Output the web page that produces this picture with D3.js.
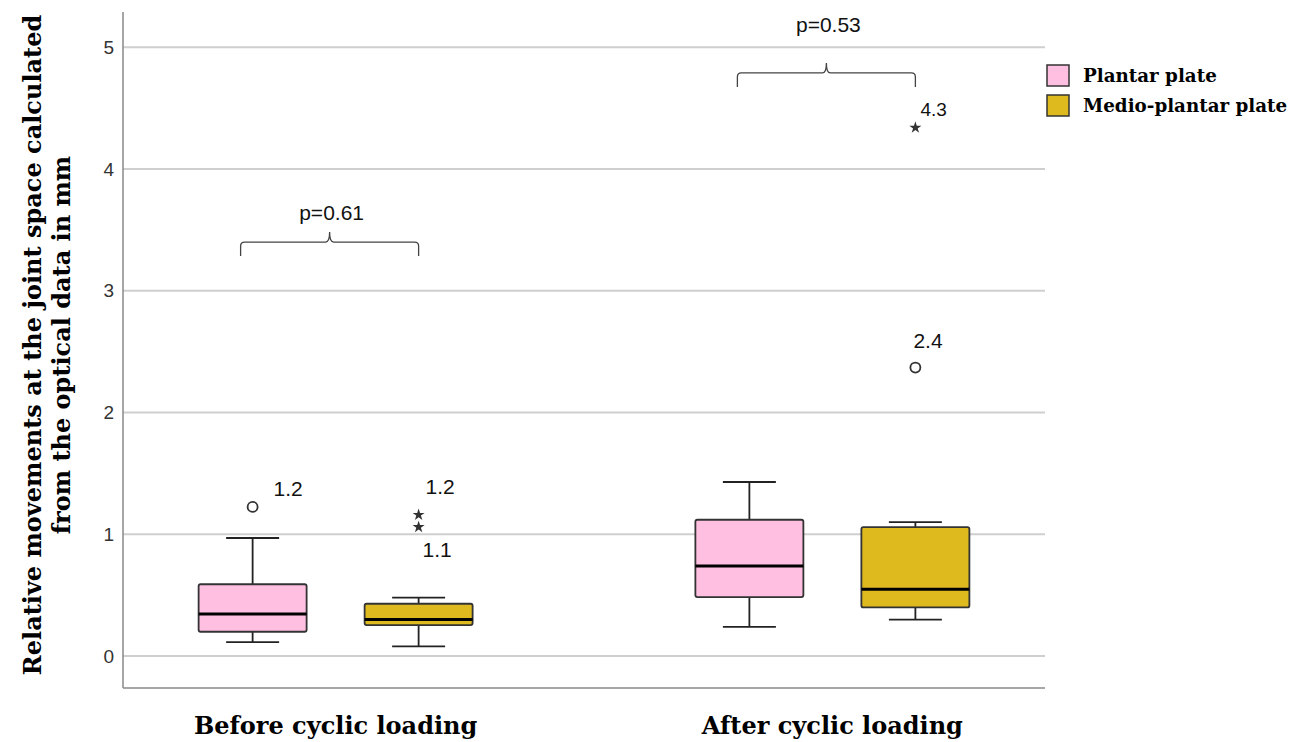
<!DOCTYPE html>
<html>
<head>
<meta charset="utf-8">
<script src="https://cdn.jsdelivr.net/npm/d3@7"></script>
<style>
body { margin: 0; background: #fff; }
</style>
</head>
<body>
<div id="chart"></div>
<script>
var width = 1298
var height = 742

var groups = ["Before cyclic loading", "After cyclic loading"]
var series = ["Plantar plate", "Medio-plantar plate"]
var colors = ["#ffbfe0", "#deba1f"]
var yTicks = [0, 1, 2, 3, 4, 5]

// [whiskerLow, q1, median, q3, whiskerHigh] per group
var plantarBox = [[0.115, 0.20, 0.345, 0.59, 0.97], [0.24, 0.485, 0.74, 1.12, 1.43]]
var medioBox = [[0.08, 0.255, 0.30, 0.43, 0.48], [0.30, 0.40, 0.55, 1.06, 1.10]]

// outliers
var outGroup = [0, 0, 0, 1, 1]
var outSeries = [0, 1, 1, 1, 1]
var outValue = [1.225, 1.16, 1.06, 2.37, 4.34]
var outKind = ["circle", "star", "star", "circle", "star"]
var outLabels = ["1.2", "1.2", "1.1", "2.4", "4.3"]

var pValues = ["p=0.61", "p=0.53"]
var pLevel = [3.40, 4.79]

var svg = d3.select("#chart").append("svg")
    .attr("width", width)
    .attr("height", height)

var pLeft = 123, pRight = 1045, pTop = 12, pBottom = 688
var serif = "'DejaVu Serif', 'Times New Roman', serif"
var sans = "'Liberation Sans', Arial, sans-serif"

var x = d3.scalePoint().domain(groups).range([pLeft, pRight]).padding(0.428)
var xs = d3.scalePoint().domain(series).range([-83, 83])
var y = d3.scaleLinear().domain([-0.262, 5.29]).range([pBottom, pTop])

// gridlines
svg.append("g").selectAll("line")
    .data(yTicks)
    .enter().append("line")
    .attr("x1", pLeft).attr("x2", pRight)
    .attr("y1", function(d){ return y(d); })
    .attr("y2", function(d){ return y(d); })
    .attr("stroke", "#cfcfcf")
    .attr("stroke-width", 2)

// y axis
var yAxis = svg.append("g")
    .attr("transform", "translate(" + pLeft + ",0)")
    .call(d3.axisLeft(y).tickValues(yTicks).tickSize(0).tickPadding(9).tickFormat(d3.format("d")))
yAxis.select(".domain").remove()
yAxis.selectAll("text")
    .style("font-family", sans)
    .style("font-size", "19px")
    .attr("fill", "#333")

svg.append("line")
    .attr("x1", pLeft).attr("x2", pLeft).attr("y1", pTop).attr("y2", pBottom)
    .attr("stroke", "#888").attr("stroke-width", 1.5)
svg.append("line")
    .attr("x1", pLeft).attr("x2", pRight).attr("y1", pBottom).attr("y2", pBottom)
    .attr("stroke", "#888").attr("stroke-width", 1.5)

// x labels
svg.append("g").selectAll("text")
    .data(groups)
    .enter().append("text")
    .attr("x", function(d){ return x(d); })
    .attr("y", 734)
    .attr("text-anchor", "middle")
    .style("font-family", serif)
    .style("font-weight", "bold")
    .style("font-size", "24px")
    .text(function(d){ return d; })

// y title
var yt = svg.append("text")
    .attr("transform", "translate(33,345) rotate(-90)")
    .attr("text-anchor", "middle")
    .style("font-family", serif)
    .style("font-weight", "bold")
    .style("font-size", "24px")
yt.append("tspan").attr("x", 0).attr("dy", "0.35em").text("Relative movements at the joint space calculated")
yt.append("tspan").attr("x", 0).attr("dy", "1.2em").text("from the optical data in mm")

// boxes
var boxW = 108, capW = 53
var allBoxes = [plantarBox, medioBox]
allBoxes.forEach(function(arr, si) {
    arr.forEach(function(b, gi) {
        var cx = x(groups[gi]) + xs(series[si])
        var g = svg.append("g")
        g.append("line")
            .attr("x1", cx).attr("x2", cx).attr("y1", y(b[0])).attr("y2", y(b[1]))
            .attr("stroke", "#222").attr("stroke-width", 1.8)
        g.append("line")
            .attr("x1", cx).attr("x2", cx).attr("y1", y(b[3])).attr("y2", y(b[4]))
            .attr("stroke", "#222").attr("stroke-width", 1.8)
        ;[b[0], b[4]].forEach(function(v){
            g.append("line")
                .attr("x1", cx - capW/2).attr("x2", cx + capW/2)
                .attr("y1", y(v)).attr("y2", y(v))
                .attr("stroke", "#222").attr("stroke-width", 1.8)
        })
        g.append("rect")
            .attr("x", cx - boxW/2).attr("width", boxW)
            .attr("y", y(b[3])).attr("height", y(b[1]) - y(b[3]))
            .attr("rx", 2)
            .attr("fill", colors[si])
            .attr("stroke", "#333").attr("stroke-width", 1.8)
        g.append("line")
            .attr("x1", cx - boxW/2).attr("x2", cx + boxW/2)
            .attr("y1", y(b[2])).attr("y2", y(b[2]))
            .attr("stroke", "#000").attr("stroke-width", 3)
    })
})

// outliers
outValue.forEach(function(v, i) {
    var cx = x(groups[outGroup[i]]) + xs(series[outSeries[i]])
    if (outKind[i] == "circle") {
        svg.append("circle")
            .attr("cx", cx).attr("cy", y(v)).attr("r", 5)
            .attr("fill", "#fff").attr("stroke", "#333").attr("stroke-width", 1.8)
    } else {
        svg.append("path")
            .attr("d", d3.symbol().type(d3.symbolStar).size(45))
            .attr("transform", "translate(" + cx + "," + y(v) + ")")
            .attr("fill", "#333")
    }
})

// outlier labels, offset from the marker
var labelDx = [21, 7, 4, -2, 5]
var labelDy = [-11, -21, 30, -20, -12]
var labelSize = [21, 21, 21, 21, 19]
outLabels.forEach(function(t, i) {
    var cx = x(groups[outGroup[i]]) + xs(series[outSeries[i]])
    svg.append("text")
        .attr("x", cx + labelDx[i])
        .attr("y", y(outValue[i]) + labelDy[i])
        .style("font-family", sans)
        .style("font-size", labelSize[i] + "px")
        .attr("fill", "#111")
        .text(t)
})

// p-value brackets
var pTextDy = [-22, -41]
pValues.forEach(function(p, gi) {
    var x0 = x(groups[gi]) + xs(series[0]) - 12
    var x1 = x(groups[gi]) + xs(series[1])
    var xm = (x0 + x1) / 2
    var yl = y(pLevel[gi])
    var r = 4
    var d = "M" + x0 + "," + (yl + 14) +
        " L" + x0 + "," + (yl + r) +
        " Q" + x0 + "," + yl + " " + (x0 + r) + "," + yl +
        " L" + (xm - r) + "," + yl +
        " Q" + xm + "," + yl + " " + xm + "," + (yl - 10) +
        " Q" + xm + "," + yl + " " + (xm + r) + "," + yl +
        " L" + (x1 - r) + "," + yl +
        " Q" + x1 + "," + yl + " " + x1 + "," + (yl + r) +
        " L" + x1 + "," + (yl + 14)
    svg.append("path")
        .attr("d", d)
        .attr("fill", "none")
        .attr("stroke", "#444")
        .attr("stroke-width", 1.3)
    svg.append("text")
        .attr("x", xm + 2)
        .attr("y", yl + pTextDy[gi])
        .attr("text-anchor", "middle")
        .style("font-family", sans)
        .style("font-size", "21px")
        .attr("fill", "#111")
        .text(p)
})

// legend
var legend = svg.append("g").attr("transform", "translate(1047,65)")
series.forEach(function(s, i) {
    legend.append("rect")
        .attr("x", 0).attr("y", i * 30)
        .attr("width", 22).attr("height", 21)
        .attr("fill", colors[i])
        .attr("stroke", "#333").attr("stroke-width", 1.5)
    legend.append("text")
        .attr("x", 36).attr("y", i * 30 + 17)
        .style("font-family", serif)
        .style("font-weight", "bold")
        .style("font-size", "18.3px")
        .text(s)
})
</script>
</body>
</html>
